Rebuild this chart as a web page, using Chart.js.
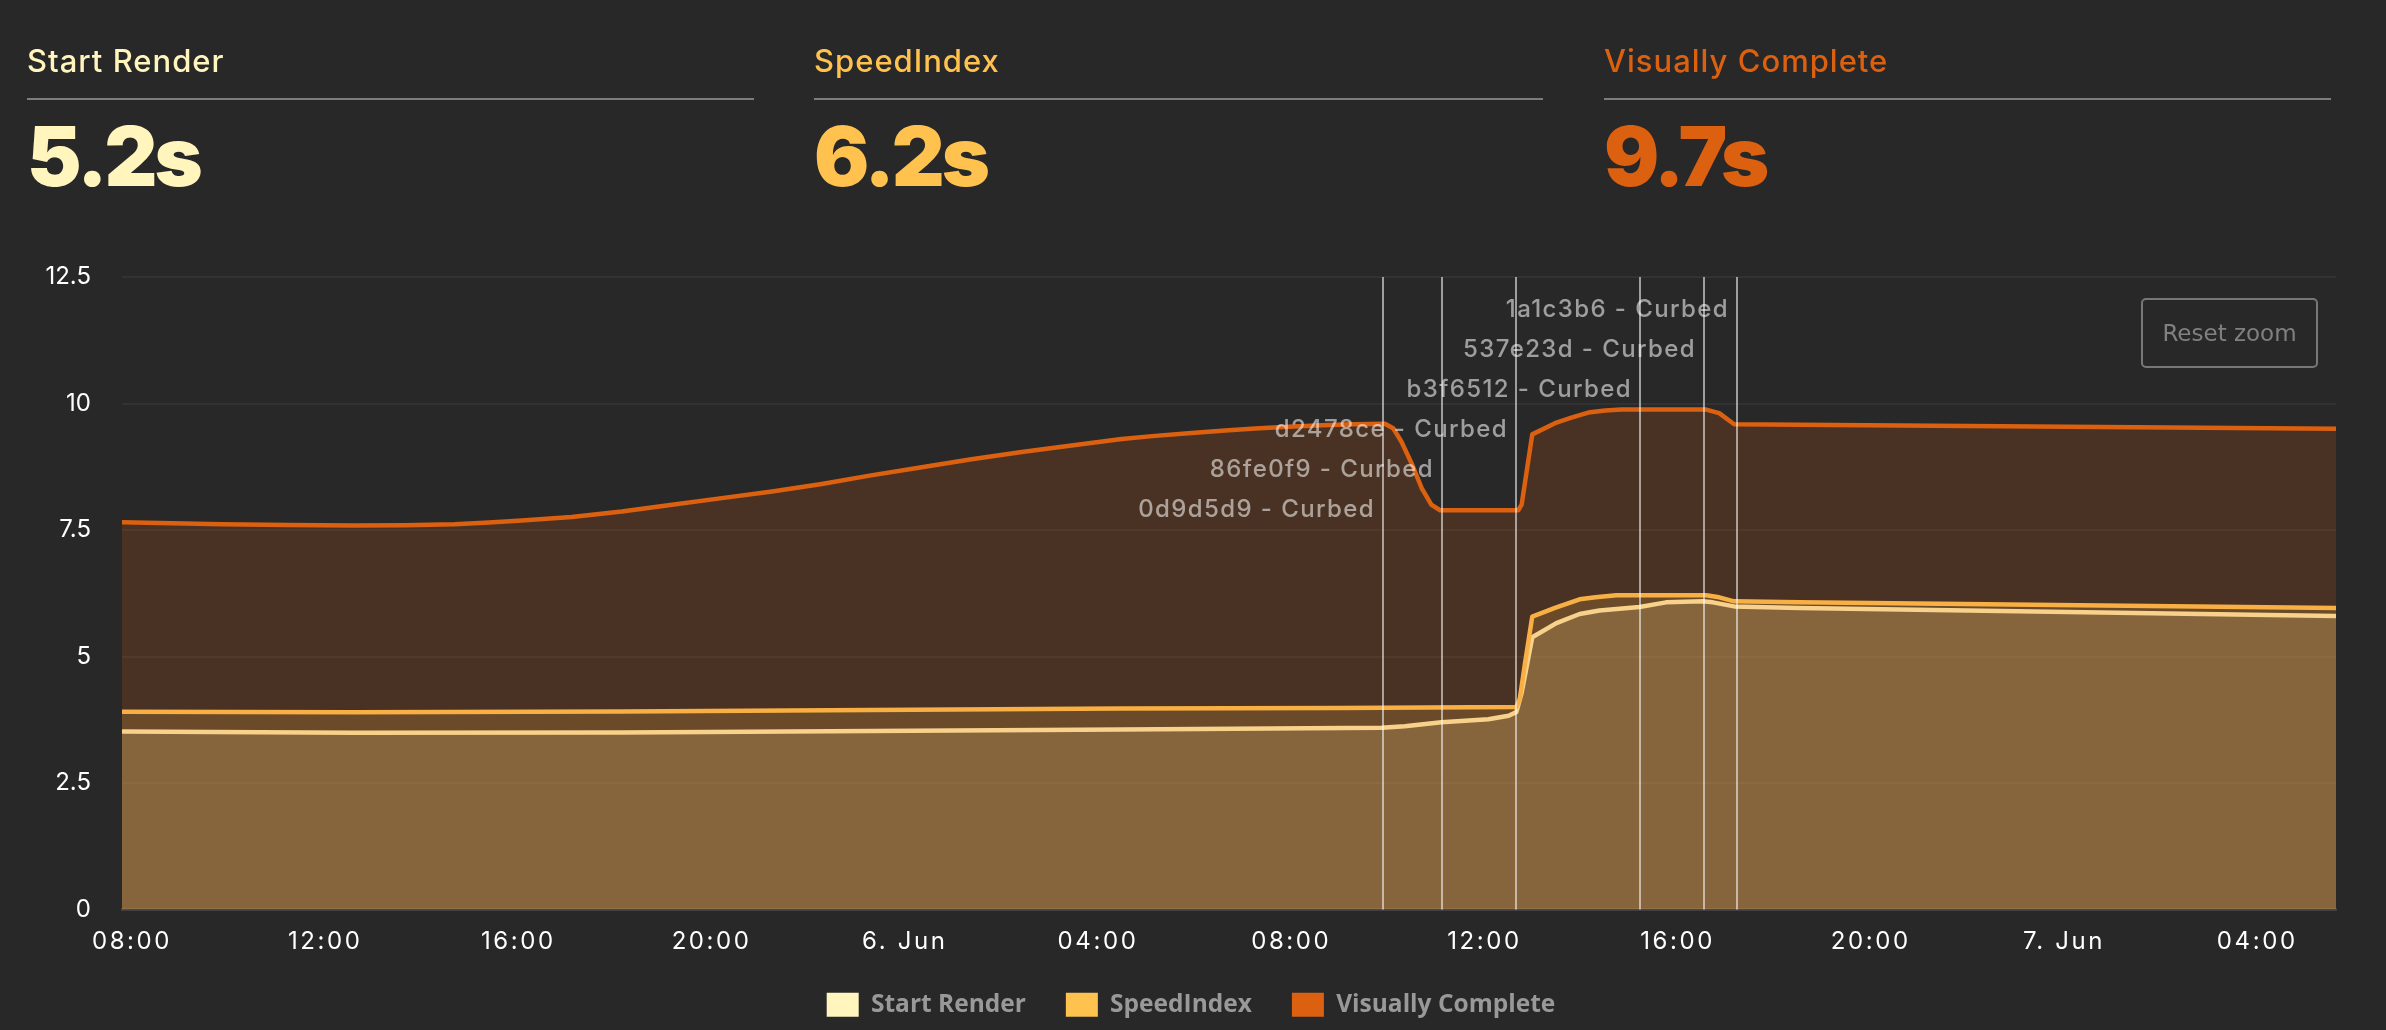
<!DOCTYPE html>
<html>
<head>
<meta charset="utf-8">
<title>Speed metrics</title>
<script src="https://cdn.jsdelivr.net/npm/chart.js@4/dist/chart.umd.min.js"></script>
<style>
  html, body { margin: 0; padding: 0; width: 2386px; height: 1030px; overflow: hidden; background: #282828; }
  #chart { position: absolute; left: 0; top: 0; }
  .stat { position: absolute; top: 0; font-family: Inter, sans-serif; }
  .stat .name { position: absolute; left: 0; top: 41px; font-size: 31px; font-weight: 500; line-height: 40px; letter-spacing: 1px; white-space: nowrap; }
  .stat .rule { position: absolute; left: 0; right: 0; top: 98px; height: 2px; background: #7d7d7d; }
  .stat .value { position: absolute; left: 0; top: 109px; font-size: 82px; line-height: 96px; font-weight: 900; letter-spacing: -3px; white-space: nowrap; }
  #reset { position: absolute; left: 2141px; top: 298px; width: 173px; height: 66px; border: 2px solid #777; border-radius: 5px;
           color: #808080; font: 23px/66px "DejaVu Sans", sans-serif; text-align: center; }
</style>
</head>
<body>
<canvas id="chart" width="2386" height="1028"></canvas>
<div class="stat" style="left:27px;width:727px;color:#fff5bd"><div class="name">Start Render</div><div class="rule"></div><div class="value">5.2s</div></div>
<div class="stat" style="left:814px;width:729px;color:#ffc24f"><div class="name">SpeedIndex</div><div class="rule"></div><div class="value">6.2s</div></div>
<div class="stat" style="left:1604px;width:727px;color:#db6010"><div class="name">Visually Complete</div><div class="rule"></div><div class="value">9.7s</div></div>
<div id="reset">Reset zoom</div>
<script>
// x values are hours after 08:00 on 5 Jun
var xMin = -0.207, xMax = 45.63;
var xTickHours = [0, 4, 8, 12, 16, 20, 24, 28, 32, 36, 40, 44];
var xTickLabels = ['08:00', '12:00', '16:00', '20:00', '6. Jun', '04:00', '08:00', '12:00', '16:00', '20:00', '7. Jun', '04:00'];
var yTickValues = [0, 2.5, 5, 7.5, 10, 12.5];
var yTickLabels = ['0', '2.5', '5', '7.5', '10', '12.5'];

var startRenderHours = [-0.207, 4.6, 10.14, 20.49, 25.87, 26.35, 27.11, 28.08, 28.5, 28.66, 28.77, 28.99, 29.49, 29.97, 30.38, 31.21, 31.76, 32.52, 32.73, 33.17, 34.52, 45.63];
var startRenderValues = [3.52, 3.495, 3.50, 3.555, 3.59, 3.62, 3.70, 3.76, 3.83, 3.90, 4.28, 5.38, 5.66, 5.84, 5.91, 5.98, 6.07, 6.09, 6.07, 5.99, 5.96, 5.80];

var speedIndexHours = [-0.207, 4.6, 10.14, 20.49, 25, 28.66, 28.73, 28.84, 28.99, 29.46, 29.97, 30.3, 30.73, 32.59, 32.86, 33.17, 34.52, 45.63];
var speedIndexValues = [3.91, 3.896, 3.915, 3.97, 3.98, 4.00, 4.15, 4.87, 5.79, 5.96, 6.13, 6.17, 6.21, 6.21, 6.17, 6.09, 6.07, 5.96];

var visuallyCompleteHours = [-0.207, 1.86, 3.24, 4.6, 5.65, 6.68, 7.39, 8.07, 9.1, 10.14, 11.18, 12.21, 13.25, 14.28, 15.3, 16.35, 17.38, 18.42, 19.45, 20.49, 21.18, 21.87, 22.56, 23.25, 23.94, 24.63, 25.3, 25.94, 26.11, 26.28, 26.49, 26.7, 26.9, 27.08, 28.7, 28.77, 28.99, 29.46, 29.8, 30.15, 30.5, 30.84, 32.59, 32.86, 33.17, 34.52, 45.63];
var visuallyCompleteValues = [7.655, 7.615, 7.60, 7.59, 7.595, 7.615, 7.65, 7.69, 7.755, 7.865, 8.0, 8.13, 8.26, 8.41, 8.58, 8.74, 8.90, 9.04, 9.17, 9.30, 9.36, 9.41, 9.46, 9.505, 9.54, 9.57, 9.59, 9.60, 9.51, 9.25, 8.82, 8.33, 8.0, 7.89, 7.89, 8.0, 9.39, 9.61, 9.72, 9.82, 9.86, 9.88, 9.88, 9.81, 9.59, 9.58, 9.50];

var deployHours = [25.89, 27.13, 28.66, 31.22, 32.55, 33.22];
var deployLabels = ['0d9d5d9 - Curbed', '86fe0f9 - Curbed', 'd2478ce - Curbed', 'b3f6512 - Curbed', '537e23d - Curbed', '1a1c3b6 - Curbed'];

function points(hours, values) {
    return hours.map(function (h, i) { return { x: h, y: values[i] }; });
}

// vertical deploy lines and their labels, drawn over the areas
var deployLines = {
    id: 'deployLines',
    afterLayout: function (chart) {
        // legend is centred on the page, not on the padded chart box
        chart.legend.left += 23;
        chart.legend.right += 23;
        chart.legend.top -= 1;
    },
    afterDatasetsDraw: function (chart) {
        var ctx = chart.ctx, area = chart.chartArea, x = chart.scales.x;
        ctx.save();
        ctx.letterSpacing = '1.4px';
        ctx.font = '500 24px Inter';
        ctx.textAlign = 'right';
        ctx.textBaseline = 'middle';
        deployHours.forEach(function (h, i) {
            var px = Math.round(x.getPixelForValue(h));
            ctx.fillStyle = 'rgba(255,255,255,0.55)';
            ctx.fillRect(px - 1, area.top, 2, area.bottom - area.top);
            ctx.fillText(deployLabels[i], px - 8, area.top + 33 + 40 * (deployHours.length - 1 - i));
        });
        ctx.restore();
        // x tick labels are wider in the original, they draw after this hook (z: 1)
        ctx.letterSpacing = '2.6px';
    },
    afterDraw: function (chart) {
        chart.ctx.letterSpacing = '0px';
    }
};

new Chart(document.getElementById('chart'), {
    type: 'line',
    data: {
        datasets: [{
            label: 'Start Render',
            data: points(startRenderHours, startRenderValues),
            borderColor: '#fff5bd',
            backgroundColor: 'rgba(255,245,189,0.2)',
            order: 3
        }, {
            label: 'SpeedIndex',
            data: points(speedIndexHours, speedIndexValues),
            borderColor: '#ffc24f',
            backgroundColor: 'rgba(255,194,79,0.19)',
            order: 2
        }, {
            label: 'Visually Complete',
            data: points(visuallyCompleteHours, visuallyCompleteValues),
            borderColor: '#db6010',
            backgroundColor: 'rgba(219,96,16,0.19)',
            order: 1
        }]
    },
    options: {
        responsive: false,
        animation: false,
        events: [],
        elements: {
            point: { radius: 0 },
            line: { borderWidth: 4.5, tension: 0, fill: 'origin', borderJoinStyle: 'round' }
        },
        layout: { padding: { top: 277, right: 50, left: 0, bottom: 0 } },
        scales: {
            x: {
                type: 'linear',
                min: xMin,
                max: xMax,
                afterBuildTicks: function (scale) {
                    scale.ticks = xTickHours.map(function (h) { return { value: h }; });
                },
                afterFit: function (scale) { scale.height = 44; },
                grid: { display: false },
                border: { color: '#404040', width: 3 },
                ticks: {
                    z: 1,
                    autoSkip: false,
                    maxRotation: 0,
                    padding: 10,
                    color: '#ffffff',
                    font: { family: 'Inter', size: 24 },
                    callback: function (value) { return xTickLabels[xTickHours.indexOf(value)]; }
                }
            },
            y: {
                min: 0,
                max: 12.5,
                afterBuildTicks: function (scale) {
                    scale.ticks = yTickValues.map(function (v) { return { value: v }; });
                },
                afterFit: function (scale) { scale.width = 122; },
                grid: { color: 'rgba(255,255,255,0.05)', lineWidth: 2, drawTicks: false },
                border: { display: false },
                ticks: {
                    padding: 31,
                    color: '#ffffff',
                    font: { family: 'Inter', size: 24 },
                    callback: function (value) { return yTickLabels[yTickValues.indexOf(value)]; }
                }
            }
        },
        plugins: {
            tooltip: { enabled: false },
            legend: {
                position: 'bottom',
                labels: {
                    boxWidth: 32,
                    boxHeight: 24,
                    padding: 40,
                    color: '#999999',
                    font: { family: 'Open Sans', size: 24.5, weight: 'bold' },
                    generateLabels: function (chart) {
                        return chart.data.datasets.map(function (d, i) {
                            return { text: d.label, fillStyle: d.borderColor, strokeStyle: d.borderColor, lineWidth: 0, fontColor: '#999999', datasetIndex: i, hidden: false };
                        });
                    }
                }
            }
        }
    },
    plugins: [deployLines]
});
</script>
</body>
</html>
